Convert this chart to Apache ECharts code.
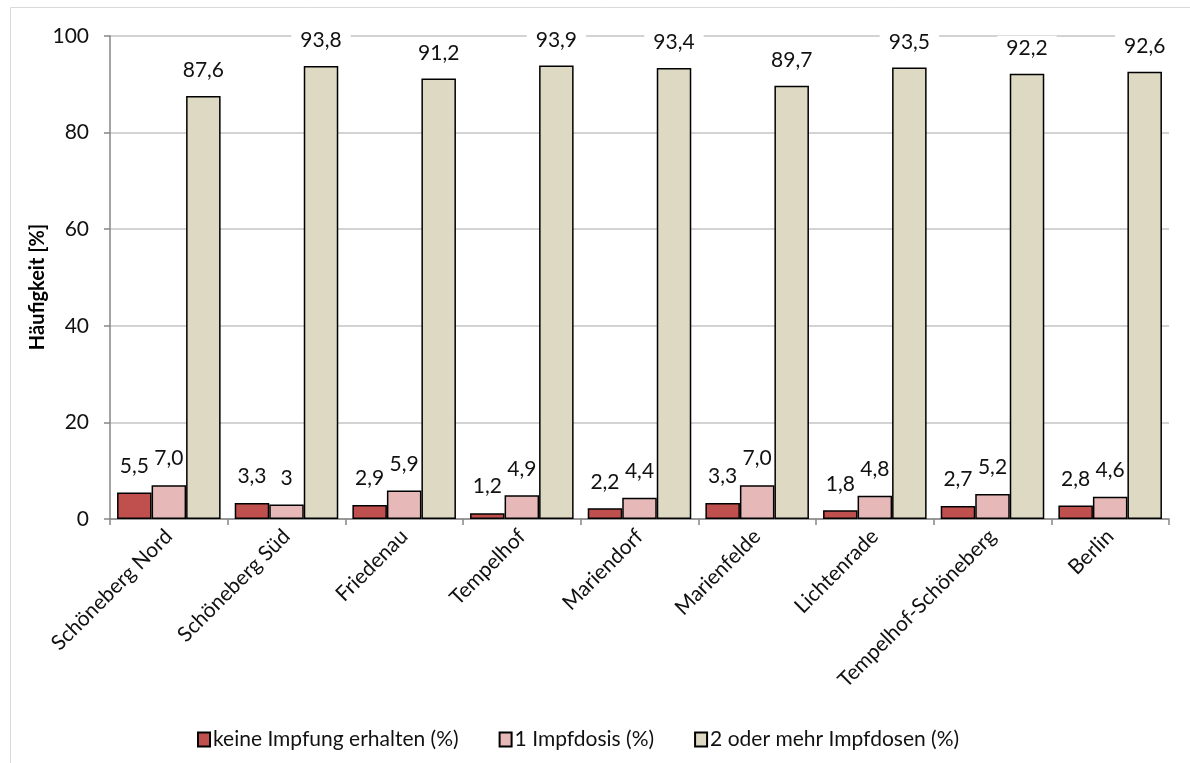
<!DOCTYPE html>
<html>
<head>
<meta charset="utf-8">
<script src="https://cdn.jsdelivr.net/npm/echarts@6/dist/echarts.min.js"></script>
<style>
  html, body { margin: 0; padding: 0; background: #fff; }
  #chart { width: 1190px; height: 763px; }
</style>
</head>
<body>
<div id="chart"></div>
<script>
// Impfstatus nach Bezirksregion (Anteile in %)
const categories = ['Schöneberg Nord', 'Schöneberg Süd', 'Friedenau', 'Tempelhof', 'Mariendorf',
  'Marienfelde', 'Lichtenrade', 'Tempelhof-Schöneberg', 'Berlin'];
// values kept as written in the labels (decimal point, shown with comma)
const keineImpfung = ['5.5', '3.3', '2.9', '1.2', '2.2', '3.3', '1.8', '2.7', '2.8'];
const eineDosis    = ['7.0', '3',   '5.9', '4.9', '4.4', '7.0', '4.8', '5.2', '4.6'];
const zweiDosen    = ['87.6', '93.8', '91.2', '93.9', '93.4', '89.7', '93.5', '92.2', '92.6'];
const seriesNames = ['keine Impfung erhalten (%)', '1 Impfdosis (%)', '2 oder mehr Impfdosen (%)'];
const yTicks = [0, 20, 40, 60, 80, 100];

const FONT = 'Lato';
const colors = ['#c0504d', '#e6b9b8', '#ddd9c3'];

function barSeries(name, values, color, masked) {
  return {
    name: name,
    type: 'bar',
    data: values.map(Number),
    barGap: '0%',
    barCategoryGap: '12%',
    itemStyle: { color: color, borderColor: '#000', borderWidth: 1.5 },
    label: {
      show: true,
      position: 'top',
      distance: masked ? 13 : 16,
      fontFamily: FONT,
      fontSize: 21,
      color: '#111',
      // tall bars' labels sit on the top grid line and blank it out
      backgroundColor: masked ? '#fff' : 'transparent',
      padding: masked ? [2, 9] : 0,
      formatter: p => values[p.dataIndex].replace('.', ',')
    }
  };
}

const chart = echarts.init(document.getElementById('chart'), null, { renderer: 'canvas' });
chart.setOption({
  animation: false,
  backgroundColor: '#fff',
  textStyle: { fontFamily: FONT },
  graphic: [{
    type: 'rect',
    shape: { x: 10.5, y: 7.5, width: 1300, height: 900 },
    style: { fill: 'none', stroke: '#d9d9d9', lineWidth: 1 },
    silent: true,
    z: -10
  }, {
    // y-axis title, reading bottom to top
    type: 'text',
    x: 38,
    y: 287,
    rotation: Math.PI / 2,
    silent: true,
    style: {
      text: 'Häufigkeit [%]',
      fontFamily: FONT,
      fontSize: 20,
      fontWeight: 'bold',
      fill: '#000',
      align: 'center',
      verticalAlign: 'middle'
    }
  }],
  grid: { left: 110, right: 21, top: 36, bottom: 244, containLabel: false },
  legend: {
    top: 729,
    left: 197,
    padding: 0,
    itemWidth: 12,
    itemHeight: 14,
    itemGap: 40,
    icon: 'rect',
    textStyle: { fontFamily: FONT, fontSize: 21, color: '#111', padding: [0, 0, 0, -2] },
    data: seriesNames
  },
  xAxis: {
    type: 'category',
    data: categories,
    axisLine: { lineStyle: { color: '#868686', width: 1.5 } },
    axisTick: { show: true, length: 6, lineStyle: { color: '#868686', width: 1.5 } },
    axisLabel: { rotate: 45, margin: 14, fontFamily: FONT, fontSize: 21, color: '#111', interval: 0 }
  },
  yAxis: {
    type: 'value',
    min: 0,
    max: 100,
    interval: 20,
    axisLine: { show: true, lineStyle: { color: '#868686', width: 1.5 } },
    axisTick: { show: true, length: 6, lineStyle: { color: '#868686', width: 1.5 } },
    axisLabel: {
      margin: 21, fontFamily: FONT, fontSize: 21, color: '#111',
      formatter: v => yTicks.includes(v) ? String(v) : ''
    },
    splitLine: { lineStyle: { color: '#c4c4c4', width: 1.5 } }
  },
  series: [
    barSeries(seriesNames[0], keineImpfung, colors[0], false),
    barSeries(seriesNames[1], eineDosis, colors[1], false),
    barSeries(seriesNames[2], zweiDosen, colors[2], true)
  ]
});
</script>
</body>
</html>
